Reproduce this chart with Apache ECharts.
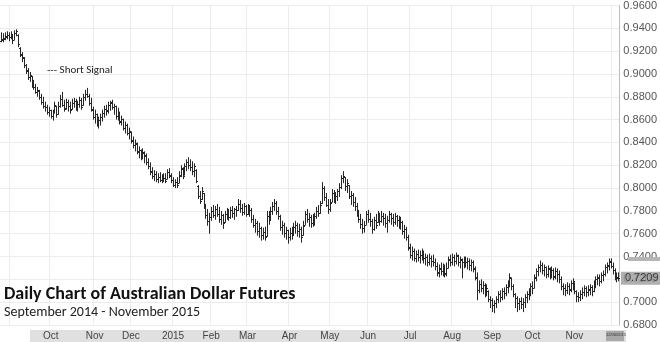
<!DOCTYPE html>
<html>
<head>
<meta charset="utf-8">
<script src="https://cdn.jsdelivr.net/npm/echarts@6/dist/echarts.min.js"></script>
<style>
html,body{margin:0;padding:0;background:#fff;}
#chart{width:660px;height:342px;}
</style>
</head>
<body>
<div id="chart"></div>
<script>
// ---- data ----
const startDate = '2014-08-25';
const endDate = '2015-12-04';
const holidays = ['2014-09-01','2014-11-27','2014-12-25','2015-01-01','2015-01-19','2015-02-16',
  '2015-04-03','2015-05-25','2015-07-03','2015-09-07','2015-11-26'];
const monthNames = ['Jan','Feb','Mar','Apr','May','Jun','Jul','Aug','Sep','Oct','Nov','Dec'];
const labelFrom = '2014-10';
const labelTo = '2015-11';
const yMin = 0.68, yMax = 0.96, yStep = 0.02;
const lastPrice = 0.7209;
const titleText = 'Daily Chart of Australian Dollar Futures';
const subtitleText = 'September 2014 - November 2015';
const noteText = '--- Short Signal';
const cursorDate = '12/06/2015';

// daily bars: [open, high, low, close]
const prices = [
[.9290,.9365,.9278,.9304],[.9300,.9357,.9278,.9313],[.9310,.9365,.9296,.9330],[.9325,.9374,.9304,.9339],
[.9340,.9365,.9287,.9322],[.9320,.9374,.9304,.9348],[.9345,.9348,.9261,.9296],[.9300,.9383,.9296,.9357],
[.9355,.9391,.9330,.9374],[.9340,.9348,.9235,.9261],[.9230,.9235,.9148,.9174],[.9170,.9191,.9104,.9148],
[.9140,.9148,.9052,.9078],[.9075,.9087,.9000,.9035],[.9030,.9052,.8948,.8974],[.8970,.9017,.8930,.8991],
[.8980,.8983,.8878,.8904],[.8900,.8948,.8861,.8887],[.8885,.8913,.8826,.8843],[.8840,.8887,.8800,.8861],
[.8855,.8861,.8774,.8800],[.8800,.8826,.8730,.8757],[.8755,.8800,.8696,.8722],[.8720,.8757,.8670,.8713],
[.8710,.8730,.8643,.8670],[.8665,.8713,.8626,.8687],[.8685,.8687,.8609,.8635],[.8630,.8687,.8591,.8670],
[.8670,.8757,.8652,.8730],[.8720,.8722,.8617,.8652],[.8650,.8757,.8643,.8722],[.8720,.8817,.8704,.8783],
[.8780,.8843,.8713,.8730],[.8730,.8774,.8670,.8696],[.8700,.8783,.8687,.8757],[.8755,.8774,.8670,.8722],
[.8720,.8757,.8652,.8687],[.8690,.8783,.8687,.8748],[.8745,.8791,.8704,.8765],[.8765,.8783,.8678,.8722],
[.8720,.8765,.8670,.8739],[.8740,.8800,.8704,.8774],[.8775,.8791,.8687,.8713],[.8725,.8826,.8722,.8800],
[.8800,.8861,.8765,.8826],[.8825,.8878,.8791,.8809],[.8810,.8826,.8722,.8748],[.8745,.8791,.8670,.8687],
[.8690,.8713,.8600,.8626],[.8625,.8687,.8565,.8652],[.8650,.8652,.8539,.8583],[.8585,.8626,.8522,.8600],
[.8600,.8652,.8548,.8626],[.8625,.8687,.8583,.8661],[.8660,.8722,.8617,.8696],[.8695,.8730,.8635,.8678],
[.8680,.8757,.8652,.8730],[.8730,.8765,.8678,.8748],[.8750,.8774,.8687,.8713],[.8710,.8739,.8643,.8722],
[.8720,.8722,.8600,.8635],[.8635,.8704,.8591,.8670],[.8668,.8670,.8557,.8583],[.8585,.8635,.8548,.8609],
[.8605,.8609,.8504,.8530],[.8530,.8583,.8478,.8557],[.8555,.8565,.8461,.8487],[.8485,.8530,.8426,.8504],
[.8495,.8496,.8391,.8417],[.8415,.8452,.8348,.8374],[.8375,.8426,.8322,.8391],[.8390,.8400,.8296,.8322],
[.8320,.8365,.8261,.8330],[.8330,.8339,.8243,.8270],[.8270,.8348,.8252,.8313],[.8310,.8322,.8217,.8287],
[.8285,.8304,.8200,.8226],[.8225,.8261,.8165,.8191],[.8190,.8226,.8113,.8148],[.8145,.8183,.8078,.8104],
[.8105,.8157,.8061,.8122],[.8120,.8148,.8052,.8078],[.8080,.8130,.8043,.8096],[.8095,.8139,.8052,.8070],
[.8070,.8122,.8043,.8096],[.8095,.8130,.8052,.8087],[.8085,.8130,.8043,.8061],[.8082,.8165,.8078,.8139],
[.8140,.8174,.8087,.8113],[.8110,.8130,.8043,.8070],[.8070,.8096,.8009,.8026],[.8025,.8078,.8000,.8052],
[.8050,.8096,.8000,.8026],[.8048,.8148,.8043,.8113],[.8110,.8200,.8096,.8174],[.8170,.8183,.8078,.8104],
[.8115,.8217,.8113,.8191],[.8190,.8252,.8148,.8226],[.8225,.8270,.8165,.8200],[.8200,.8252,.8148,.8183],
[.8185,.8235,.8113,.8148],[.8150,.8217,.8096,.8191],[.8160,.8165,.8043,.8061],[.8020,.8026,.7904,.7930],
[.7930,.7974,.7861,.7887],[.7900,.8009,.7896,.7974],[.7955,.7957,.7817,.7843],[.7840,.7861,.7730,.7765],
[.7765,.7817,.7670,.7713],[.7710,.7783,.7600,.7748],[.7745,.7835,.7713,.7800],[.7800,.7852,.7739,.7765],
[.7765,.7843,.7722,.7817],[.7815,.7861,.7748,.7774],[.7775,.7835,.7696,.7730],[.7730,.7800,.7678,.7765],
[.7765,.7774,.7643,.7696],[.7700,.7800,.7696,.7774],[.7775,.7826,.7722,.7800],[.7800,.7817,.7713,.7748],
[.7750,.7835,.7730,.7809],[.7810,.7843,.7739,.7783],[.7780,.7826,.7722,.7817],[.7815,.7843,.7748,.7809],
[.7810,.7904,.7800,.7861],[.7860,.7896,.7783,.7826],[.7825,.7861,.7757,.7791],[.7790,.7870,.7765,.7843],
[.7840,.7852,.7748,.7774],[.7775,.7861,.7765,.7826],[.7825,.7852,.7748,.7809],[.7810,.7826,.7696,.7730],
[.7730,.7765,.7652,.7678],[.7675,.7730,.7609,.7696],[.7695,.7713,.7583,.7626],[.7625,.7696,.7565,.7652],
[.7650,.7661,.7539,.7591],[.7590,.7652,.7548,.7617],[.7615,.7661,.7539,.7574],[.7580,.7800,.7574,.7757],
[.7755,.7800,.7678,.7722],[.7720,.7835,.7713,.7800],[.7800,.7878,.7765,.7843],[.7845,.7904,.7800,.7870],
[.7870,.7887,.7765,.7800],[.7800,.7835,.7722,.7757],[.7755,.7765,.7626,.7661],[.7660,.7713,.7591,.7678],
[.7680,.7696,.7565,.7609],[.7610,.7661,.7548,.7635],[.7635,.7635,.7513,.7574],[.7575,.7652,.7539,.7609],
[.7610,.7661,.7548,.7591],[.7590,.7696,.7583,.7661],[.7660,.7713,.7600,.7678],[.7680,.7696,.7574,.7626],
[.7625,.7687,.7565,.7643],[.7645,.7661,.7522,.7574],[.7585,.7713,.7583,.7670],[.7680,.7800,.7678,.7774],
[.7775,.7817,.7696,.7730],[.7730,.7783,.7661,.7748],[.7750,.7765,.7652,.7696],[.7695,.7774,.7661,.7739],
[.7740,.7783,.7670,.7757],[.7755,.7835,.7730,.7800],[.7800,.7852,.7748,.7783],[.7785,.7887,.7774,.7852],
[.7865,.8052,.7861,.8000],[.8000,.8017,.7887,.7922],[.7920,.7957,.7835,.7852],[.7850,.7904,.7774,.7817],
[.7820,.7904,.7791,.7870],[.7880,.7991,.7878,.7957],[.7955,.7983,.7870,.7904],[.7905,.7965,.7861,.7930],
[.7930,.7991,.7887,.7974],[.7975,.8043,.7922,.8009],[.8010,.8113,.7991,.8087],[.8085,.8148,.8043,.8104],
[.8095,.8096,.7974,.8017],[.8015,.8078,.7957,.8043],[.8025,.8026,.7904,.7930],[.7930,.7974,.7852,.7939],
[.7940,.7957,.7835,.7878],[.7880,.7922,.7800,.7843],[.7845,.7870,.7748,.7783],[.7785,.7809,.7696,.7730],
[.7730,.7774,.7643,.7687],[.7685,.7730,.7600,.7652],[.7650,.7713,.7609,.7678],[.7680,.7800,.7678,.7774],
[.7775,.7809,.7696,.7730],[.7730,.7783,.7661,.7713],[.7710,.7730,.7600,.7643],[.7645,.7748,.7626,.7722],
[.7720,.7774,.7643,.7678],[.7700,.7800,.7696,.7765],[.7765,.7783,.7670,.7713],[.7715,.7800,.7696,.7757],
[.7755,.7783,.7670,.7739],[.7740,.7774,.7652,.7696],[.7695,.7757,.7609,.7722],[.7720,.7800,.7696,.7774],
[.7775,.7783,.7678,.7739],[.7740,.7774,.7661,.7704],[.7705,.7783,.7678,.7757],[.7755,.7765,.7661,.7722],
[.7720,.7757,.7643,.7678],[.7680,.7748,.7635,.7704],[.7705,.7713,.7591,.7626],[.7625,.7678,.7557,.7643],
[.7645,.7661,.7539,.7574],[.7575,.7591,.7452,.7478],[.7480,.7513,.7383,.7417],[.7415,.7487,.7365,.7452],
[.7450,.7470,.7357,.7391],[.7390,.7452,.7348,.7426],[.7425,.7461,.7357,.7400],[.7400,.7452,.7339,.7417],
[.7415,.7470,.7365,.7435],[.7435,.7452,.7339,.7383],[.7385,.7426,.7322,.7400],[.7400,.7417,.7313,.7348],
[.7350,.7426,.7322,.7391],[.7390,.7409,.7304,.7365],[.7365,.7417,.7313,.7348],[.7350,.7383,.7278,.7313],
[.7315,.7348,.7226,.7261],[.7260,.7330,.7217,.7296],[.7295,.7348,.7235,.7270],[.7270,.7339,.7226,.7313],
[.7315,.7330,.7217,.7252],[.7250,.7348,.7226,.7296],[.7300,.7400,.7296,.7374],[.7375,.7417,.7313,.7348],
[.7350,.7426,.7322,.7400],[.7400,.7417,.7313,.7365],[.7365,.7435,.7330,.7409],[.7410,.7417,.7313,.7348],
[.7350,.7400,.7296,.7374],[.7375,.7383,.7209,.7348],[.7350,.7400,.7296,.7383],[.7385,.7400,.7304,.7348],
[.7350,.7391,.7287,.7365],[.7365,.7383,.7278,.7330],[.7330,.7374,.7270,.7348],[.7350,.7365,.7261,.7296],
[.7295,.7313,.7191,.7217],[.7215,.7261,.7017,.7104],[.7105,.7191,.7078,.7157],[.7155,.7200,.7087,.7122],
[.7120,.7183,.7070,.7148],[.7150,.7165,.7043,.7087],[.7085,.7157,.7052,.7122],[.7100,.7104,.7000,.7026],
[.7025,.7052,.6948,.7017],[.7015,.7035,.6913,.6974],[.6975,.7017,.6904,.6991],[.6990,.7052,.6948,.7026],
[.7025,.7096,.6991,.7070],[.7070,.7104,.7000,.7043],[.7045,.7122,.7017,.7096],[.7095,.7130,.7026,.7078],
[.7080,.7157,.7052,.7130],[.7130,.7191,.7078,.7157],[.7155,.7252,.7130,.7217],[.7215,.7217,.7104,.7139],
[.7140,.7157,.7043,.7070],[.7070,.7078,.6948,.7035],[.7035,.7052,.6913,.6991],[.6990,.7035,.6930,.7009],
[.7010,.7043,.6939,.6983],[.6985,.7035,.6913,.7000],[.7000,.7070,.6948,.7043],[.7045,.7096,.6991,.7070],
[.7070,.7122,.7017,.7087],[.7085,.7165,.7052,.7139],[.7140,.7183,.7070,.7122],[.7125,.7243,.7122,.7217],
[.7215,.7296,.7183,.7270],[.7270,.7330,.7226,.7304],[.7305,.7365,.7261,.7330],[.7330,.7348,.7243,.7278],
[.7280,.7330,.7226,.7304],[.7305,.7313,.7209,.7243],[.7245,.7322,.7217,.7296],[.7295,.7304,.7200,.7261],
[.7260,.7313,.7209,.7278],[.7280,.7296,.7191,.7226],[.7225,.7304,.7200,.7270],[.7270,.7296,.7174,.7243],
[.7245,.7278,.7165,.7200],[.7200,.7226,.7104,.7139],[.7140,.7165,.7061,.7122],[.7120,.7157,.7052,.7104],
[.7105,.7174,.7070,.7139],[.7140,.7165,.7061,.7113],[.7110,.7191,.7087,.7165],[.7165,.7209,.7104,.7183],
[.7170,.7174,.7070,.7096],[.7095,.7104,.7000,.7052],[.7050,.7087,.7000,.7043],[.7045,.7104,.7009,.7070],
[.7070,.7130,.7026,.7087],[.7085,.7148,.7052,.7122],[.7120,.7139,.7043,.7087],[.7090,.7148,.7052,.7113],
[.7110,.7157,.7061,.7130],[.7130,.7148,.7052,.7096],[.7095,.7191,.7087,.7165],[.7165,.7226,.7122,.7200],
[.7200,.7243,.7148,.7217],[.7215,.7243,.7139,.7183],[.7185,.7261,.7165,.7235],[.7235,.7278,.7183,.7243],
[.7245,.7330,.7226,.7304],[.7305,.7348,.7252,.7322],[.7320,.7383,.7278,.7357],[.7355,.7383,.7296,.7313],
[.7315,.7348,.7243,.7278],[.7280,.7296,.7191,.7226],[.7225,.7261,.7174,.7217],[.7215,.7261,.7183,.7209]
];

// ---- trading-day calendar ----
function ymd(d){ return d.toISOString().slice(0,10); }
const dates = [];
for (let d = new Date(startDate + 'T00:00:00Z'); ymd(d) <= endDate; d.setUTCDate(d.getUTCDate() + 1)) {
  const wd = d.getUTCDay();
  const s = ymd(d);
  if (wd === 0 || wd === 6 || holidays.indexOf(s) >= 0) continue;
  dates.push(s);
}
const n = Math.min(dates.length, prices.length);
const cats = dates.slice(0, n);
function isMonthStart(i){ return i > 0 && cats[i].slice(0,7) !== cats[i-1].slice(0,7); }
function showLabel(i){ const m = cats[i].slice(0,7); return isMonthStart(i) && m >= labelFrom && m <= labelTo; }
function monthLabel(s){ const mo = +s.slice(5,7); return mo === 1 ? s.slice(0,4) : monthNames[mo-1]; }

const seriesData = prices.slice(0, n).map((p, i) => [i, p[0], p[1], p[2], p[3]]);

function renderItem(params, api) {
  const i = api.value(0);
  const o = api.coord([i, api.value(1)]);
  const h = api.coord([i, api.value(2)]);
  const l = api.coord([i, api.value(3)]);
  const c = api.coord([i, api.value(4)]);
  const x = Math.round(h[0]) + 0.5;
  const st = { stroke: '#262626', lineWidth: 1 };
  return {
    type: 'group',
    children: [
      { type: 'line', shape: { x1: x, y1: h[1], x2: x, y2: l[1] }, style: st },
      { type: 'line', shape: { x1: x - 1.5, y1: Math.round(o[1]) + 0.5, x2: x, y2: Math.round(o[1]) + 0.5 }, style: st },
      { type: 'line', shape: { x1: x, y1: Math.round(c[1]) + 0.5, x2: x + 1.5, y2: Math.round(c[1]) + 0.5 }, style: st }
    ]
  };
}

const chart = echarts.init(document.getElementById('chart'), null, { renderer: 'canvas' });
const FONT = 'Carlito, Lato, "Open Sans", sans-serif';
const AXFONT = '"Liberation Sans", Arial, sans-serif';
chart.setOption({
  animation: false,
  backgroundColor: '#ffffff',
  grid: { left: 0, right: 34, top: 3, bottom: 17, containLabel: false },
  title: {
    text: titleText,
    subtext: subtitleText,
    left: 4, top: 285, padding: 0, itemGap: 2,
    textStyle: { fontFamily: FONT, fontSize: 18, fontWeight: 'bold', color: '#111' },
    subtextStyle: { fontFamily: FONT, fontSize: 14, color: '#222' }
  },
  xAxis: {
    type: 'category',
    data: cats,
    boundaryGap: true,
    axisLine: { show: false },
    axisTick: { show: false },
    axisLabel: {
      interval: (i) => showLabel(i),
      formatter: (v) => monthLabel(v),
      margin: 6,
      color: '#444',
      fontSize: 10,
      fontFamily: AXFONT
    },
    splitLine: { show: true, interval: (i) => isMonthStart(i), lineStyle: { color: '#ececec', width: 1 } }
  },
  yAxis: {
    type: 'value',
    position: 'right',
    min: yMin, max: yMax, interval: yStep,
    axisLine: { show: true, lineStyle: { color: '#bdbdbd' } },
    axisTick: { show: false },
    axisLabel: {
      formatter: (v) => v.toFixed(4),
      margin: 4,
      color: '#555',
      fontSize: 11,
      fontFamily: AXFONT
    },
    splitLine: { show: true, lineStyle: { color: '#ececec', width: 1 } }
  },
  graphic: {
    elements: [
      { type: 'rect', z: -10, shape: { x: 30, y: 330, width: 596, height: 12 }, style: { fill: '#e0e0e0' } },
      { type: 'rect', z: 10, shape: { x: 606, y: 331, width: 18, height: 10 }, style: { fill: '#a8a8a8' } },
      { type: 'text', z: 11, left: 606, top: 333, style: { text: cursorDate, fontSize: 4, fill: '#333', fontFamily: AXFONT } },
      { type: 'text', z: 11, left: 47, top: 65, style: { text: noteText, fontSize: 11, fill: '#222', fontFamily: FONT } },
      { type: 'rect', z: 20, shape: { x: 628, y: 257, width: 32, height: 4 }, style: { fill: '#b5b5b5' } }
    ]
  },
  series: [{
    type: 'custom',
    renderItem: renderItem,
    data: seriesData,
    encode: { x: 0, y: [1, 2, 3, 4] },
    clip: false
  }, {
    type: 'scatter',
    data: [[n - 1, lastPrice]],
    symbolSize: 1,
    itemStyle: { color: 'rgba(0,0,0,0)' },
    silent: true,
    clip: false,
    z: 20,
    label: {
      show: true,
      position: 'right',
      distance: 2,
      formatter: () => lastPrice.toFixed(4),
      backgroundColor: '#9c9c9c',
      color: '#1a1a1a',
      padding: [1, 4, 1, 4],
      fontSize: 11,
      fontFamily: AXFONT
    }
  }]
});
</script>
</body>
</html>
